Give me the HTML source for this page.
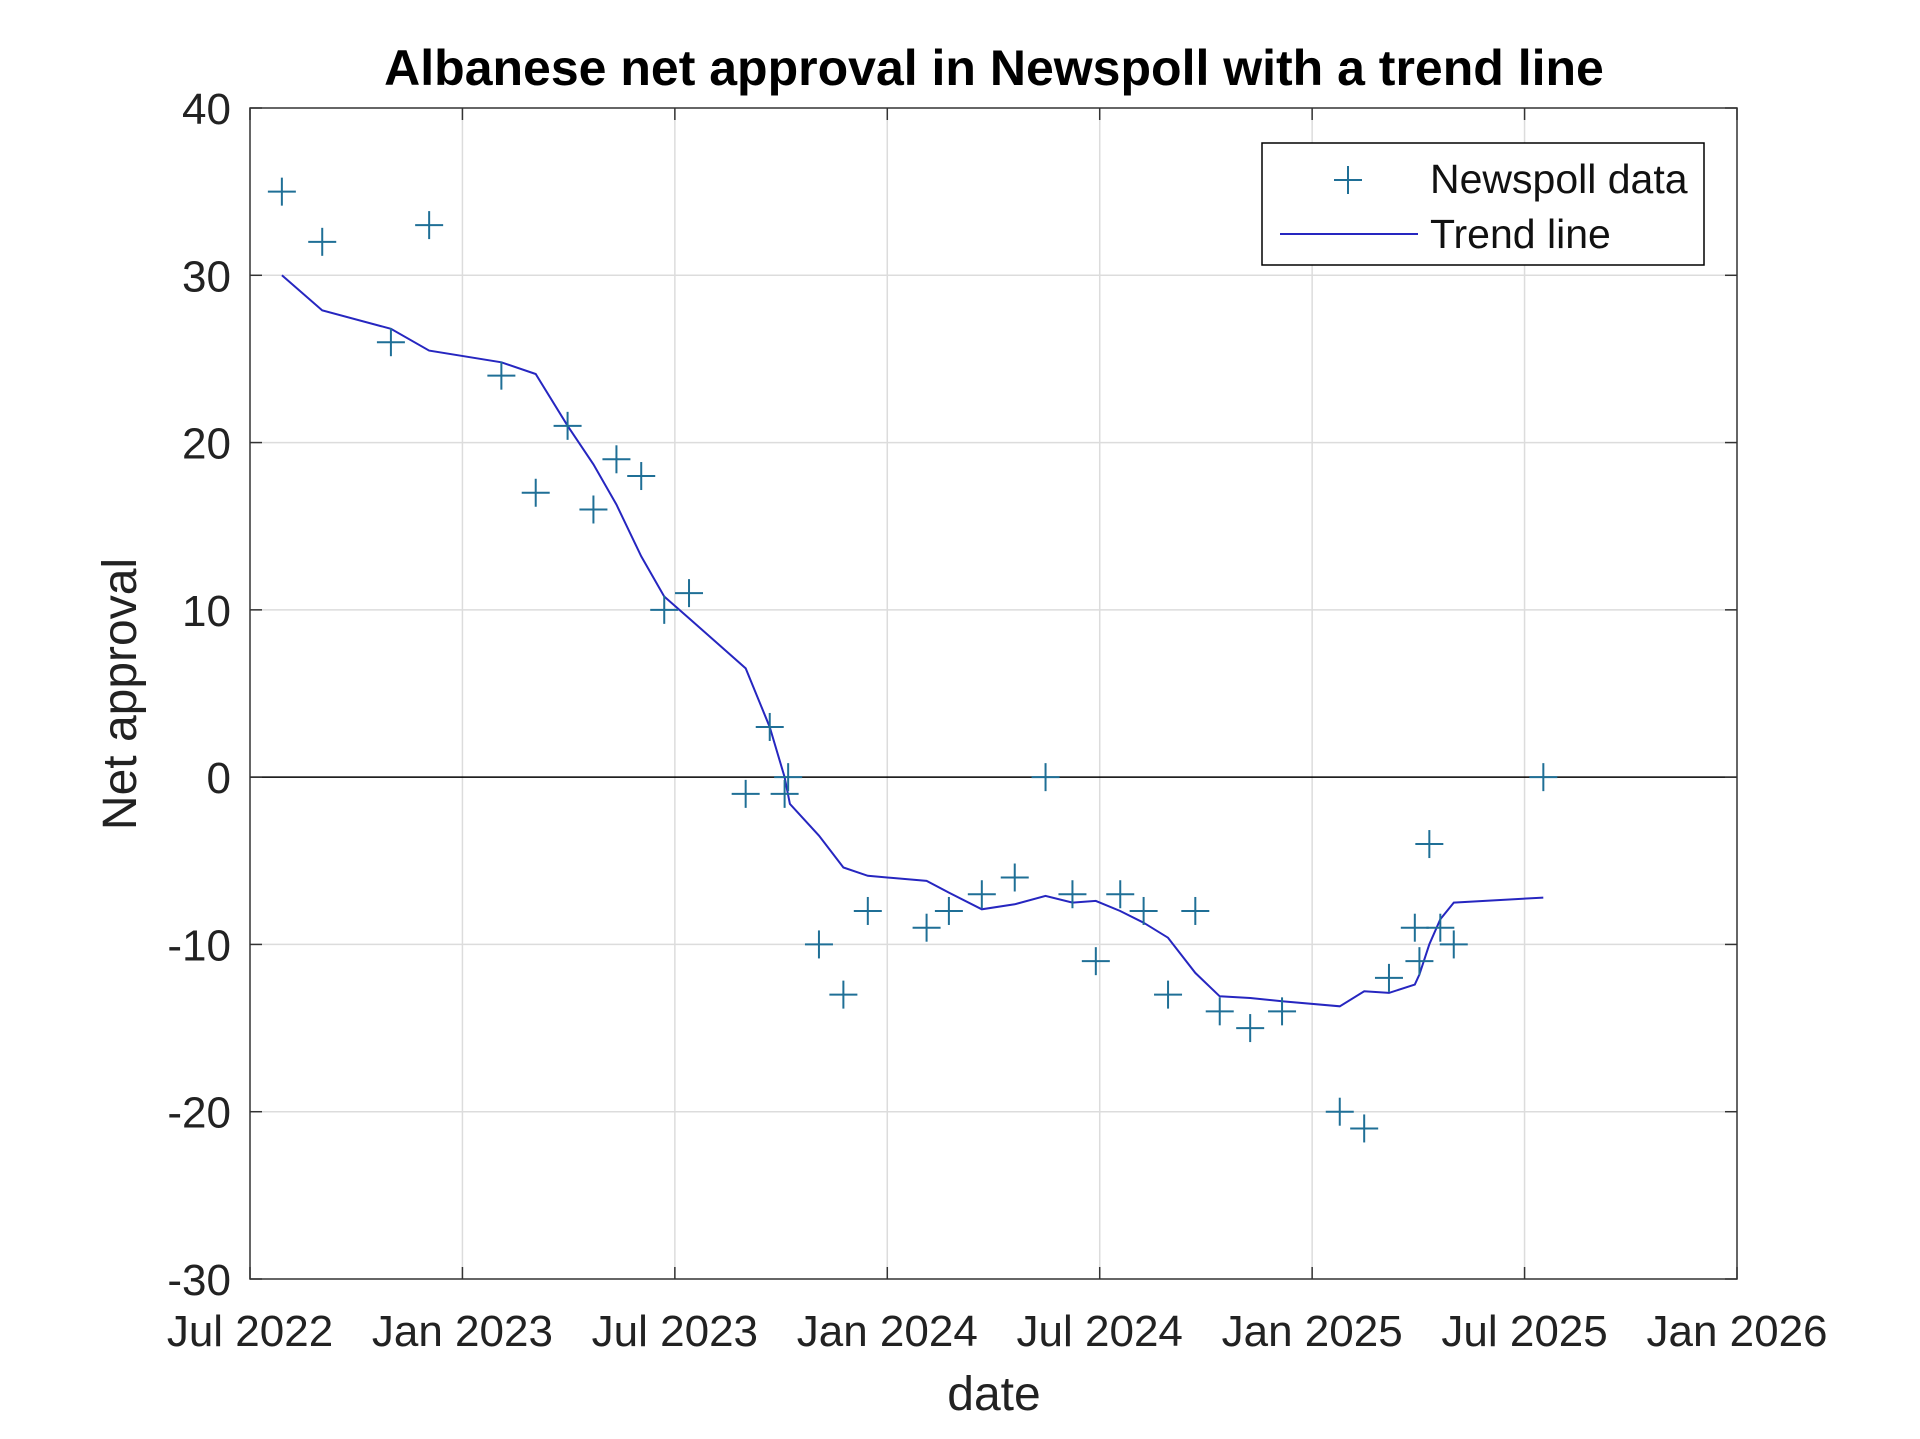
<!DOCTYPE html>
<html><head><meta charset="utf-8"><style>
html,body{margin:0;padding:0;background:#fff;}
svg{display:block;font-family:"Liberation Sans",Arial,sans-serif;}
</style></head><body>
<svg id="chart" width="1920" height="1439" viewBox="0 0 1920 1439">
<rect width="1920" height="1439" fill="#fff"/>
<g id="grid"></g><g id="axes"></g><g id="series"></g>
<text x="994" y="85" text-anchor="middle" font-size="50" font-weight="bold" fill="#000">Albanese net approval in Newspoll with a trend line</text>
<text transform="translate(136,694) rotate(-90)" text-anchor="middle" font-size="48" fill="#222">Net approval</text>
<text x="994" y="1410" text-anchor="middle" font-size="48" fill="#222">date</text>
<g>
<rect x="1262" y="143" width="442" height="122" fill="#fff" stroke="#000" stroke-width="1.5"/>
<g><line x1="1334" y1="180" x2="1362" y2="180" stroke="#1f6f96" stroke-width="2"/><line x1="1348" y1="166" x2="1348" y2="194" stroke="#1f6f96" stroke-width="2"/></g>
<text x="1430" y="193" font-size="41" fill="#111">Newspoll data</text>
<line x1="1280" y1="234" x2="1418" y2="234" stroke="#2626c0" stroke-width="2"/>
<text x="1430" y="248" font-size="41" fill="#111">Trend line</text>
</g>
</svg>
<script>
// months since Jul 2022
const pollMonths=[0.9,2.04,3.98,5.06,7.1,8.07,8.97,9.7,10.35,11.05,11.7,12.4,14.0,14.68,15.1,15.2,16.07,16.76,17.45,19.11,19.74,20.67,21.6,22.47,23.23,23.89,24.58,25.24,25.93,26.7,27.39,28.25,29.15,30.78,31.47,32.17,32.9,33.03,33.31,33.62,34.0,36.53];
const pollValues=[35,32,26,33,24,17,21,16,19,18,10,11,-1,3,-1,0,-10,-13,-8,-9,-8,-7,-6,0,-7,-11,-7,-8,-13,-8,-14,-15,-14,-20,-21,-12,-9,-11,-4,-9,-10,0];
const trendMonths=[0.9,2.04,3.98,5.06,7.1,8.07,8.97,9.7,10.35,11.05,11.7,12.4,14.0,14.68,15.1,15.25,16.07,16.76,17.45,19.11,19.74,20.67,21.6,22.47,23.23,23.89,24.58,25.24,25.93,26.7,27.39,28.25,29.15,30.78,31.47,32.17,32.9,33.03,33.31,33.62,34.0,36.53];
const trendValues=[30,27.9,26.8,25.5,24.8,24.1,21,18.7,16.3,13.2,10.8,9.5,6.5,3,0,-1.6,-3.5,-5.4,-5.9,-6.2,-6.9,-7.9,-7.6,-7.1,-7.5,-7.4,-8,-8.7,-9.6,-11.7,-13.1,-13.2,-13.4,-13.7,-12.8,-12.9,-12.4,-11.8,-10,-8.5,-7.5,-7.2];
const xTickLabels=["Jul 2022","Jan 2023","Jul 2023","Jan 2024","Jul 2024","Jan 2025","Jul 2025","Jan 2026"];
const yTickValues=[-30,-20,-10,0,10,20,30,40];

const L=250,R=1737,T=108,B=1279,XMAX=42,YMIN=-30,YMAX=40;
const NS="http://www.w3.org/2000/svg";
const xs=m=>L+(R-L)*m/XMAX;
const ys=v=>B-(B-T)*(v-YMIN)/(YMAX-YMIN);
function mk(tag,attrs,parent){const e=document.createElementNS(NS,tag);for(const k in attrs)e.setAttribute(k,attrs[k]);parent.appendChild(e);return e;}
const grid=document.getElementById('grid'),axes=document.getElementById('axes'),ser=document.getElementById('series');
xTickLabels.forEach((lab,i)=>{const x=xs(i*6);
 if(i>0&&i<xTickLabels.length-1){const g=mk('line',{x1:x,y1:T,x2:x,y2:B,stroke:'#dcdcdc','stroke-width':1.5},grid);
 
 }
 mk('line',{x1:x,y1:B,x2:x,y2:B-12,stroke:'#333','stroke-width':1.5},axes);
 mk('line',{x1:x,y1:T,x2:x,y2:T+12,stroke:'#333','stroke-width':1.5},axes);
 const t=mk('text',{x:x,y:1346,'text-anchor':'middle','font-size':44,fill:'#222'},axes);t.textContent=lab;
 
 
});
yTickValues.forEach(v=>{const y=ys(v);
 if(v>YMIN&&v<YMAX){const g=mk('line',{x1:L,y1:y,x2:R,y2:y,stroke:v===0?'#000':'#dcdcdc','stroke-width':1.5},grid);
 
 }
 mk('line',{x1:L,y1:y,x2:L+12,y2:y,stroke:'#333','stroke-width':1.5},axes);
 mk('line',{x1:R,y1:y,x2:R-12,y2:y,stroke:'#333','stroke-width':1.5},axes);
 const t=mk('text',{x:231,y:y+16,'text-anchor':'end','font-size':44,fill:'#222'},axes);t.textContent=v;
 
 
});
const box=mk('rect',{x:L,y:T,width:R-L,height:B-T,fill:'none',stroke:'#333','stroke-width':1.5},axes);


const pts=trendMonths.map((m,i)=>xs(m).toFixed(1)+','+ys(trendValues[i]).toFixed(1)).join(' ');
const pl=mk('polyline',{points:pts,fill:'none',stroke:'#2626c0','stroke-width':2},ser);


pollMonths.forEach((m,i)=>{const x=xs(m),y=ys(pollValues[i]);
 const g=mk('g',{stroke:'#1f6f96','stroke-width':2},ser);
 
 
 mk('line',{x1:x-14,y1:y,x2:x+14,y2:y},g);mk('line',{x1:x,y1:y-14,x2:x,y2:y+14},g);
});
</script>
</body></html>
